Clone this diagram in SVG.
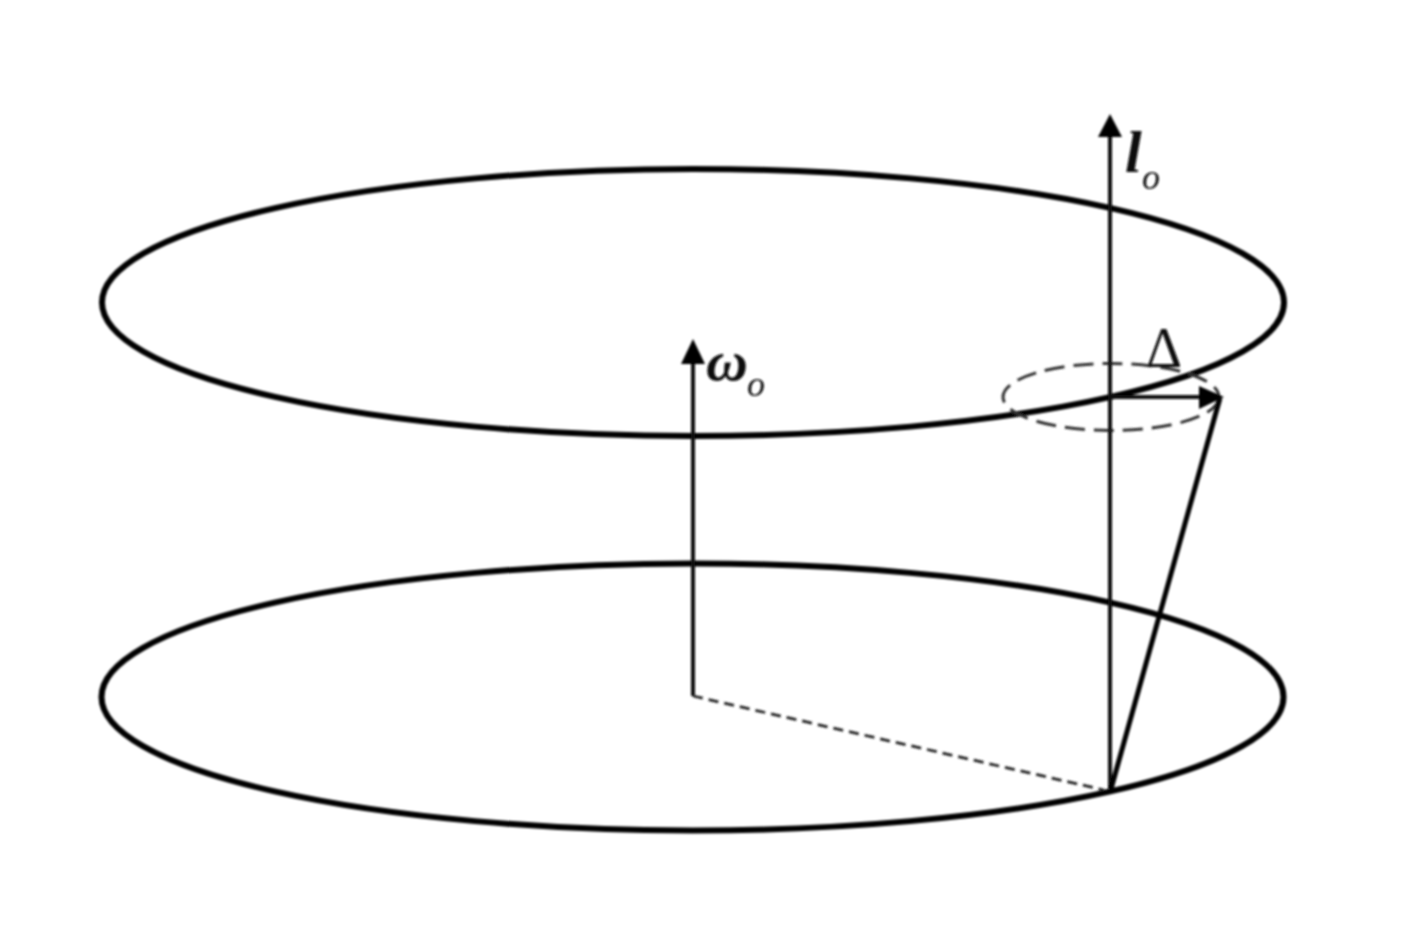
<svg xmlns="http://www.w3.org/2000/svg" width="1404" height="948" viewBox="0 0 1404 948">
<defs><filter id="soft" x="0" y="0" width="100%" height="100%" filterUnits="userSpaceOnUse" primitiveUnits="userSpaceOnUse"><feGaussianBlur stdDeviation="0.8"/></filter></defs>
<style>
.disc{fill:none;stroke:#000;stroke-width:6}
.ln{fill:none;stroke:#111;stroke-width:4}
.hd{fill:#000;stroke:none}
.dash{fill:none;stroke:#333;stroke-width:3}
text{font-family:"Liberation Serif","Times New Roman",serif;fill:#111}
</style>
<rect width="1404" height="948" fill="#fff"/>
<g filter="url(#soft)">
<g id="top-disc"><ellipse class="disc" cx="693" cy="302.500" rx="591" ry="133.500"/></g>
<g id="bottom-disc"><ellipse class="disc" cx="692.500" cy="697" rx="591" ry="133.500"/></g>
<g id="precession-circle"><ellipse class="dash" cx="1111" cy="397" rx="108" ry="33.500" stroke-dasharray="20 9"/></g>
<g id="connectors">
<line class="ln" x1="693" y1="696" x2="693" y2="362"/>
<polygon class="hd" points="693,339 681,364 705,364"/>
<line class="ln" x1="1110" y1="790" x2="1110" y2="136"/>
<polygon class="hd" points="1110,114 1098,137 1122,137"/>
<line class="ln" x1="1110" y1="397" x2="1200" y2="397"/>
<polygon class="hd" points="1224,397 1199,386 1199,409"/>
<line x1="1111" y1="789" x2="1220" y2="398" fill="none" stroke="#000" stroke-width="5"/>
<line x1="693" y1="696" x2="1104" y2="790" fill="none" stroke="#222" stroke-width="2.800" stroke-dasharray="10 6"/>
</g>
<g id="label-omega"><text x="706" y="380" font-size="58" font-weight="bold" font-style="italic">ω</text><text x="747" y="396" font-size="36" font-style="italic" fill="#555">o</text></g>
<g id="label-l"><text x="1125" y="172" font-size="60" font-weight="bold" font-style="italic">l</text><text x="1142" y="189" font-size="36" font-style="italic" fill="#555">o</text></g>
<g id="label-delta"><text x="1146" y="367" font-size="56">Δ</text></g>
</g>
</svg>
